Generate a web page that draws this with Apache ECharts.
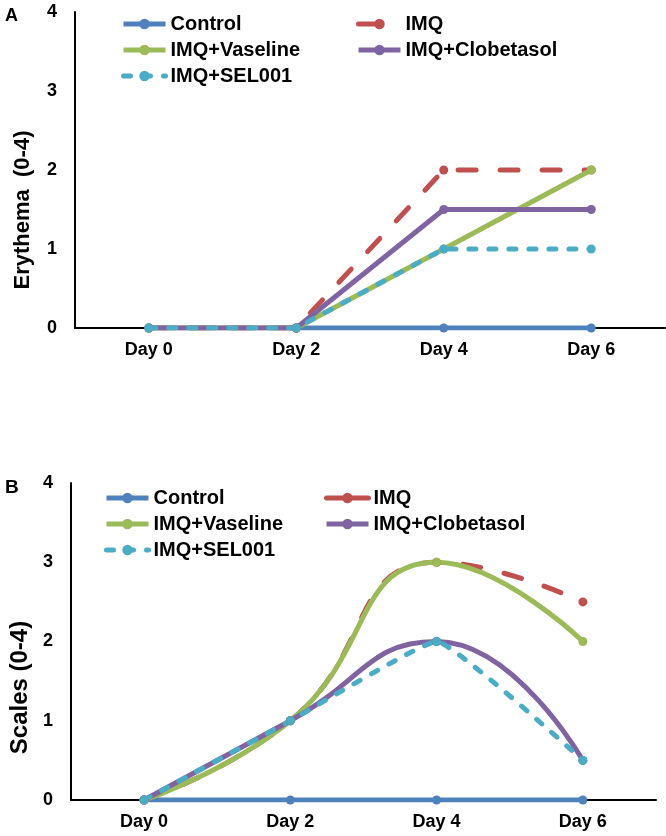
<!DOCTYPE html>
<html>
<head>
<meta charset="utf-8">
<script src="https://cdn.jsdelivr.net/npm/echarts@6/dist/echarts.min.js"></script>
<style>
  html, body { margin: 0; padding: 0; background: #fff; }
  #chart { width: 666px; height: 836px; }
</style>
</head>
<body>
<div id="chart"></div>
<script>
// ---- Data ----
const categories = ['Day 0', 'Day 2', 'Day 4', 'Day 6'];
const seriesNames = ['Control', 'IMQ', 'IMQ+Vaseline', 'IMQ+Clobetasol', 'IMQ+SEL001'];

// Panel A: Erythema (0-4)
const erythemaControl    = [null, 0, 0, 0];
const erythemaIMQ        = [0, 0, 2, 2];
const erythemaVaseline   = [0, 0, 1, 2];
const erythemaClobetasol = [0, 0, 1.5, 1.5];
const erythemaSEL001     = [0, 0, 1, 1];

// Panel B: Scales (0-4)
const scalesControl    = [0, 0, 0, 0];
const scalesIMQ        = [0, 1, 3, 2.5];
const scalesVaseline   = [0, 1, 3, 2];
const scalesClobetasol = [0, 1, 2, 0.5];
const scalesSEL001     = [0, 1, 2, 0.5];

// ---- Styles ----
const FONT = 'Liberation Sans, Arial, sans-serif';
const colors = {
  'Control': '#4f81bd',
  'IMQ': '#c0504d',
  'IMQ+Vaseline': '#9bbb59',
  'IMQ+Clobetasol': '#8064a2',
  'IMQ+SEL001': '#4bacc6'
};
const redDash = [18, 24];
const cyanDash = [7, 13];

function mkSeries(name, data, gridIdx, opts) {
  opts = opts || {};
  return {
    name: name,
    type: 'line',
    xAxisIndex: gridIdx,
    yAxisIndex: gridIdx,
    data: data,
    symbol: 'circle',
    symbolSize: 9,
    showSymbol: true,
    smooth: opts.smooth || false,
    connectNulls: false,
    itemStyle: { color: colors[name] },
    lineStyle: {
      color: colors[name],
      width: 5,
      type: opts.dash || 'solid',
      cap: opts.dash ? 'round' : 'butt',
      join: 'round'
    },
    emphasis: { disabled: true },
    animation: false
  };
}

const axisLabelStyle = { color: '#000', fontFamily: FONT, fontWeight: 'bold', fontSize: 18 };

function mkX(gridIdx) {
  return {
    type: 'category',
    gridIndex: gridIdx,
    data: categories,
    boundaryGap: true,
    axisLine: { show: true, lineStyle: { color: '#000', width: 2 } },
    axisTick: { show: false },
    splitLine: { show: false },
    axisLabel: Object.assign({ margin: 13 }, axisLabelStyle)
  };
}
function mkY(gridIdx, name, gap, shift, fs) {
  return {
    type: 'value',
    gridIndex: gridIdx,
    min: 0, max: 4, interval: 1,
    name: name,
    nameLocation: 'middle',
    nameGap: gap,
    nameTextStyle: {
      color: '#000', fontFamily: FONT, fontWeight: 'bold', fontSize: fs,
      padding: [0, shift, 0, 0]
    },
    axisLine: { show: true, lineStyle: { color: '#000', width: 2 } },
    axisTick: { show: false },
    splitLine: { show: false },
    axisLabel: Object.assign({ margin: 18 }, axisLabelStyle)
  };
}

const legendText = { color: '#000', fontFamily: FONT, fontWeight: 'bold', fontSize: 20 };
function mkLegend(left, top, data) {
  return {
    orient: 'vertical',
    left: left, top: top,
    padding: 0,
    itemWidth: 42, itemHeight: 13,
    itemGap: 6,
    textStyle: legendText,
    lineStyle: { width: 5 },
    selectedMode: false,
    data: data
  };
}

const chart = echarts.init(document.getElementById('chart'), null, { renderer: 'canvas' });
chart.setOption({
  backgroundColor: '#fff',
  animation: false,
  title: [
    { text: 'A', left: 0, top: 2, textStyle: { fontFamily: FONT, fontWeight: 'bold', fontSize: 18, color: '#000' } },
    { text: 'B', left: 0, top: 473, textStyle: { fontFamily: FONT, fontWeight: 'bold', fontSize: 19, color: '#000' } }
  ],
  grid: [
    { left: 75, right: 1, top: 12, height: 316 },
    { left: 58, width: 598, top: 483, height: 317 }
  ],
  xAxis: [mkX(0), mkX(1)],
  yAxis: [mkY(0, 'Erythema  (0-4)', 41, 80, 22), mkY(1, 'Scales (0-4)', 34, 92, 24)],
  legend: [
    mkLegend(121, 14, ['Control', 'IMQ+Vaseline', 'IMQ+SEL001']),
    mkLegend(356, 14, ['IMQ', 'IMQ+Clobetasol']),
    mkLegend(104, 488, ['Control', 'IMQ+Vaseline', 'IMQ+SEL001']),
    mkLegend(324, 488, [{ name: 'IMQ', lineStyle: { type: 'solid' } }, 'IMQ+Clobetasol'])
  ],
  series: [
    mkSeries('Control', erythemaControl, 0),
    mkSeries('IMQ', erythemaIMQ, 0, { dash: redDash }),
    mkSeries('IMQ+Vaseline', erythemaVaseline, 0),
    mkSeries('IMQ+Clobetasol', erythemaClobetasol, 0),
    mkSeries('IMQ+SEL001', erythemaSEL001, 0, { dash: cyanDash }),

    mkSeries('Control', scalesControl, 1),
    mkSeries('IMQ', scalesIMQ, 1, { dash: redDash, smooth: 0.5 }),
    mkSeries('IMQ+Vaseline', scalesVaseline, 1, { smooth: 0.5 }),
    mkSeries('IMQ+Clobetasol', scalesClobetasol, 1, { smooth: 0.5 }),
    mkSeries('IMQ+SEL001', scalesSEL001, 1, { dash: cyanDash, smooth: 0.1 })
  ]
});
</script>
</body>
</html>
